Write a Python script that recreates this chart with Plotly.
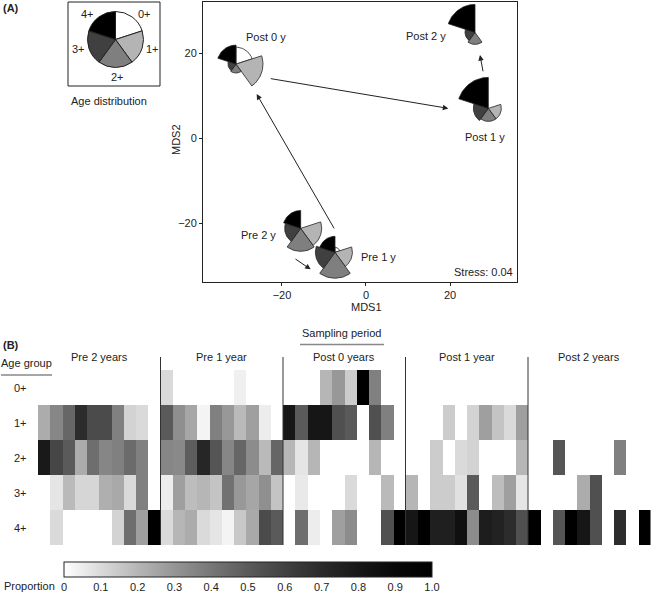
import numpy as np
import plotly.graph_objects as go

W, H = 652, 593
FONT = "Liberation Sans, Arial, Helvetica, sans-serif"
INK = "#222222"

# ---------------- data ----------------
age_groups = ["0+", "1+", "2+", "3+", "4+"]
periods = ["Pre 2 years", "Pre 1 year", "Post 0 years", "Post 1 year", "Post 2 years"]
period_short = ["Pre 2 y", "Pre 1 y", "Post 0 y", "Post 1 y", "Post 2 y"]

# Panel A: nMDS ordination of sampling periods
mds1 = [-15.55, -7.38, -30.95, 29.12, 25.95]
mds2 = [-21.18, -26.82, 17.48, 7.06, 24.94]
stress = 0.04

# mean proportion of each age group per period (sector area ~ proportion)
pie_0plus = [0.00, 0.016, 0.18, 0.00, 0.00]
pie_1plus = [0.276, 0.19, 0.456, 0.106, 0.00]
pie_2plus = [0.33, 0.42, 0.05, 0.106, 0.09]
pie_3plus = [0.16, 0.24, 0.04, 0.14, 0.0625]
pie_4plus = [0.20, 0.16, 0.226, 0.60, 0.49]

# arrows joining successive periods (tail -> head), MDS units
arrow_tail_x = [-17.14, -7.38, -23.02, 27.93]
arrow_tail_y = [-28.16, -21.55, 14.12, 15.44]
arrow_head_x = [-13.17, -26.02, 19.60, 27.14]
arrow_head_y = [-30.82, 10.42, 7.06, 19.60]

# Panel B: proportion of each age group in each of 50 samples (10 per period)
prop_0plus = [0, 0, 0, 0, 0, 0, 0, 0, 0, 0,
              0.10, 0, 0, 0, 0, 0, 0.04, 0, 0, 0,
              0, 0, 0, 0.20, 0.29, 0.14, 1.00, 0.37, 0, 0,
              0, 0, 0, 0, 0, 0, 0, 0, 0, 0,
              0, 0, 0, 0, 0, 0, 0, 0, 0, 0]
prop_1plus = [0.23, 0.35, 0.46, 0.69, 0.56, 0.56, 0.37, 0.12, 0.10, 0,
              0.50, 0.32, 0.25, 0.03, 0.37, 0.29, 0.19, 0.27, 0.05, 0,
              0.81, 0.50, 0.81, 0.81, 0.54, 0.50, 0, 0.54, 0.37, 0,
              0, 0, 0, 0.14, 0, 0.12, 0.27, 0.16, 0.10, 0.27,
              0, 0, 0, 0, 0, 0, 0, 0, 0, 0]
prop_2plus = [0.79, 0.58, 0.50, 0.23, 0.43, 0.35, 0.37, 0.44, 0.37, 0,
              0.35, 0.34, 0.49, 0.72, 0.52, 0.35, 0.46, 0.33, 0.19, 0.46,
              0.20, 0.07, 0.20, 0, 0, 0, 0, 0.20, 0, 0,
              0, 0, 0.14, 0, 0.10, 0.12, 0, 0, 0, 0.20,
              0, 0, 0.52, 0, 0, 0, 0, 0.37, 0, 0]
prop_3plus = [0, 0.07, 0.19, 0.11, 0.11, 0.22, 0.24, 0.10, 0.37, 0,
              0.05, 0.27, 0.18, 0.20, 0.16, 0.42, 0.29, 0.25, 0.32, 0.16,
              0, 0.06, 0, 0, 0, 0.10, 0, 0, 0.19, 0,
              0.20, 0, 0.14, 0.14, 0.08, 0.50, 0, 0.18, 0.27, 0.07,
              0, 0, 0, 0, 0.23, 0.54, 0, 0, 0, 0]
prop_4plus = [0, 0.10, 0, 0, 0, 0, 0.12, 0.43, 0.27, 1.00,
              0.10, 0.20, 0.23, 0.10, 0.07, 0.03, 0.15, 0.24, 0.56, 0.50,
              0, 0.43, 0.05, 0, 0.27, 0.33, 0, 0, 0.54, 1.00,
              0.81, 1.00, 0.76, 0.76, 0.85, 0.33, 0.77, 0.74, 0.69, 0.54,
              1.00, 0, 0.52, 1.00, 0.81, 0.54, 0, 0.69, 0, 1.00]
samples_per_period = 10

cbar_ticks = [0, 0.1, 0.2, 0.3, 0.4, 0.5, 0.6, 0.7, 0.8, 0.9, 1.0]
cbar_labels = ["0", "0.1", "0.2", "0.3", "0.4", "0.5", "0.6", "0.7", "0.8", "0.9", "1.0"]

# ---------------- styles / layout geometry ----------------
age_colors = ["#ffffff", "#b4b4b4", "#7f7f7f", "#404040", "#000000"]
GAMMA = 1.5
colorscale = []
for s in np.linspace(0, 1, 11):
    g = int(round(255 * (1 - s) ** GAMMA))
    colorscale.append([float(s), f"rgb({g},{g},{g})"])

MDS_X_PX = (203, 517)
MDS_Y_PX = (2, 282)
X_RANGE = [-38.8, 35.95]
Y_RANGE = [-33.8, 32.1]
HM_X_PX = (38, 650.5)
HM_Y_PX = (370, 545)
R_FULL = 40  # px radius of a sector with proportion 1

# label offsets (px) from the pie centres
label_dx = [-42, 44, 30, -3, -49]
label_dy = [7, 5, -27, 29, 4]


def px(x):
    return x / W


def py(y):
    return 1 - y / H


def note(x, y, text, **kw):
    opts = dict(x=px(x), y=py(y), xref="paper", yref="paper", text=text, showarrow=False,
                xanchor="center", yanchor="middle", font=dict(size=11, color=INK))
    opts.update(kw)
    fig.add_annotation(**opts)


XPX = (MDS_X_PX[1] - MDS_X_PX[0]) / (X_RANGE[1] - X_RANGE[0])
YPX = (MDS_Y_PX[1] - MDS_Y_PX[0]) / (Y_RANGE[1] - Y_RANGE[0])

fig = go.Figure()

# ---- panel A: rose-pies at MDS positions ----
pie_props = [pie_0plus, pie_1plus, pie_2plus, pie_3plus, pie_4plus]
for i in range(len(periods)):
    for k in range(len(age_groups)):
        p = pie_props[k][i]
        if p <= 0:
            continue
        r = R_FULL * np.sqrt(p)
        t = np.radians(np.linspace(72 * k, 72 * (k + 1), 30))
        xs = np.concatenate([[mds1[i]], mds1[i] + r * np.sin(t) / XPX, [mds1[i]]])
        ys = np.concatenate([[mds2[i]], mds2[i] + r * np.cos(t) / YPX, [mds2[i]]])
        fig.add_trace(go.Scatter(
            x=xs, y=ys, mode="lines", fill="toself", fillcolor=age_colors[k],
            line=dict(color=INK, width=0.8), hoverinfo="skip", showlegend=False,
            xaxis="x", yaxis="y"))

for i in range(len(arrow_tail_x)):
    fig.add_annotation(x=arrow_head_x[i], y=arrow_head_y[i], ax=arrow_tail_x[i], ay=arrow_tail_y[i],
                       xref="x", yref="y", axref="x", ayref="y", text="", showarrow=True,
                       arrowhead=2, arrowsize=1.1, arrowwidth=1, arrowcolor=INK, standoff=0)

for i in range(len(periods)):
    fig.add_annotation(x=mds1[i], y=mds2[i], xref="x", yref="y", text=period_short[i],
                       showarrow=False, xshift=label_dx[i], yshift=-label_dy[i],
                       xanchor="center", yanchor="middle", font=dict(size=11, color=INK))

note(452, 272, f"Stress: {stress:.2f}", xanchor="left")

# legend pie
fig.add_trace(go.Pie(values=[1] * 5, labels=age_groups, sort=False, direction="clockwise",
                     rotation=0, textinfo="none", hoverinfo="skip", showlegend=False,
                     marker=dict(colors=age_colors, line=dict(color=INK, width=1)),
                     domain=dict(x=[px(87.5), px(143.5)], y=[py(67.5), py(11.5)])))
leg_lab_x = [144, 152, 117, 78, 87]
leg_lab_y = [14, 49, 77, 49, 14]
for k in range(5):
    note(leg_lab_x[k], leg_lab_y[k], age_groups[k])
fig.add_shape(type="rect", xref="paper", yref="paper", x0=px(68), x1=px(160), y0=py(86), y1=py(2),
              line=dict(color=INK, width=1))
note(109, 101, "Age distribution")
note(1, 8, "<b>(A)</b>", xanchor="left")
note(366, 307, "MDS1")
note(176, 140, "MDS2", textangle=-90)

# ---- panel B: heatmap ----
z = [prop_0plus, prop_1plus, prop_2plus, prop_3plus, prop_4plus]
fig.add_trace(go.Heatmap(
    z=z, x=list(range(len(prop_0plus))), y=list(range(len(age_groups))),
    colorscale=colorscale, zmin=0, zmax=1, xaxis="x2", yaxis="y2", hoverinfo="skip",
    colorbar=dict(orientation="h", x=px(248), xanchor="center", len=368 / W, lenmode="fraction",
                  thickness=15, thicknessmode="pixels", y=py(562), yanchor="top", ypad=0, xpad=0,
                  outlinecolor=INK, outlinewidth=1, tickvals=cbar_ticks, ticktext=cbar_labels,
                  ticks="", tickfont=dict(size=11, color=INK, family=FONT))))

n_cols = len(prop_0plus)
for b in range(1, len(periods)):
    xb = b * samples_per_period - 0.5
    fig.add_shape(type="line", xref="x2", yref="paper", x0=xb, x1=xb, y0=py(545), y1=py(357),
                  line=dict(color="#333333", width=1))
for j, name in enumerate(periods):
    fig.add_annotation(x=j * samples_per_period + (samples_per_period - 1) / 2, y=py(357),
                       xref="x2", yref="paper", text=name, showarrow=False,
                       xanchor="center", yanchor="middle", font=dict(size=11, color=INK))
for k, name in enumerate(age_groups):
    fig.add_annotation(x=px(20), y=k, xref="paper", yref="y2", text=name, showarrow=False,
                       xanchor="center", yanchor="middle", font=dict(size=11, color=INK))

note(341.5, 333, "Sampling period")
fig.add_shape(type="line", xref="paper", yref="paper", x0=px(300), x1=px(384), y0=py(344.5),
              y1=py(344.5), line=dict(color="#888888", width=1.5))
note(26.5, 363, "Age group")
fig.add_shape(type="line", xref="paper", yref="paper", x0=px(1), x1=px(52), y0=py(375),
              y1=py(375), line=dict(color="#888888", width=1.5))
note(1, 345, "<b>(B)</b>", xanchor="left")
note(29, 586, "Proportion")

axis_common = dict(showgrid=False, zeroline=False, showline=True, mirror=True, linecolor=INK,
                   linewidth=1, ticks="outside", ticklen=3, tickcolor=INK,
                   tickfont=dict(size=11, color=INK))
fig.update_layout(
    width=W, height=H, margin=dict(l=0, r=0, t=0, b=0, autoexpand=False),
    paper_bgcolor="white", plot_bgcolor="white", showlegend=False,
    font=dict(family=FONT, size=11, color=INK),
    xaxis=dict(domain=[px(MDS_X_PX[0]), px(MDS_X_PX[1])], range=X_RANGE, tickvals=[-20, 0, 20],
               anchor="y", **axis_common),
    yaxis=dict(domain=[py(MDS_Y_PX[1]), py(MDS_Y_PX[0])], range=Y_RANGE, tickvals=[-20, 0, 20],
               anchor="x", **axis_common),
    xaxis2=dict(domain=[px(HM_X_PX[0]), px(HM_X_PX[1])], range=[-0.5, n_cols - 0.5],
                visible=False, anchor="y2"),
    yaxis2=dict(domain=[py(HM_Y_PX[1]), py(HM_Y_PX[0])], range=[len(age_groups) - 0.5, -0.5],
                visible=False, anchor="x2"),
)

fig.write_html("out.html", config={"displayModeBar": False},
               post_script="document.body.style.margin='0';")
